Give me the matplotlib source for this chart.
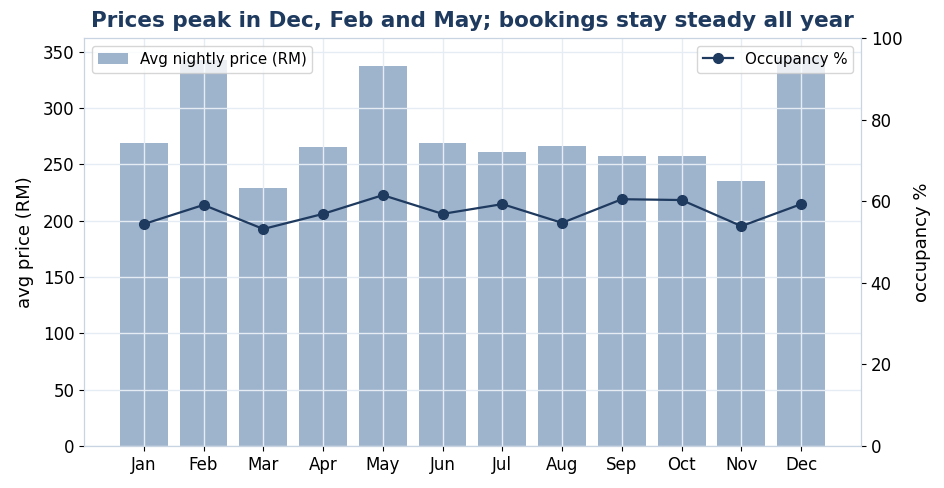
import numpy as np
import matplotlib.pyplot as plt

months = ['Jan', 'Feb', 'Mar', 'Apr', 'May', 'Jun',
          'Jul', 'Aug', 'Sep', 'Oct', 'Nov', 'Dec']
avg_price = [269, 343, 229, 265.5, 337.5, 269, 261, 266.5, 257.5, 257.5, 235.5, 345]
occupancy = [54.4, 59.1, 53.2, 56.9, 61.5, 56.9, 59.3, 54.7, 60.5, 60.3, 53.9, 59.3]

navy = '#1f3a5f'
bar_col = '#9eb3cc'
spine_col = '#c8d4e2'

fig, ax = plt.subplots(figsize=(9.44, 4.88), dpi=100)
x = np.arange(len(months))

ax.bar(x, avg_price, width=0.8, color=bar_col, label='Avg nightly price (RM)')
ax.set_xlim(-1, 12)
ax.set_ylim(0, max(avg_price) * 1.05)
ax.set_xticks(x)
ax.set_xticklabels(months, fontsize=12)
ax.tick_params(axis='y', labelsize=12)
ax.set_ylabel('avg price (RM)', fontsize=13, labelpad=6)
ax.grid(True, color='#e6ecf3', linewidth=1)
ax.set_axisbelow(False)

ax2 = ax.twinx()
ax2.plot(x, occupancy, color=navy, marker='o', markersize=7, linewidth=1.6,
         label='Occupancy %')
ax2.set_ylim(0, 100)
ax2.tick_params(axis='y', labelsize=12)
ax2.set_ylabel('occupancy %', fontsize=13, labelpad=8)

for a in (ax, ax2):
    for s in a.spines.values():
        s.set_color(spine_col)

ax.legend(loc='upper left', fontsize=10.8)
ax2.legend(loc='upper right', fontsize=10.8)

ax.set_title('Prices peak in Dec, Feb and May; bookings stay steady all year',
             fontsize=15.5, fontweight='bold', color=navy, pad=8)

fig.subplots_adjust(left=0.089, right=0.912, top=0.922, bottom=0.086)
fig.savefig('out.png', dpi=100)
